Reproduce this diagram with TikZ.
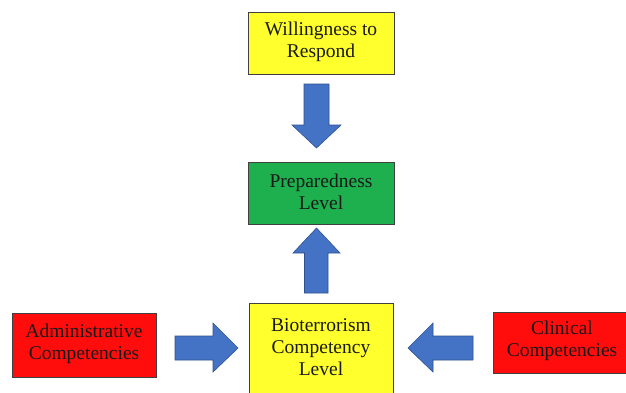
\documentclass[tikz,border=0pt]{standalone}
\usepackage{fontspec}
\setmainfont{Liberation Serif}
\definecolor{byellow}{HTML}{FFFF2E}
\definecolor{bgreen}{HTML}{1EAF4E}
\definecolor{bred}{HTML}{FF0D0D}
\definecolor{bblue}{HTML}{4472C4}
\definecolor{bblueedge}{HTML}{2F528F}
\definecolor{bedge}{HTML}{404040}
\begin{document}
\begin{tikzpicture}[x=1pt,y=-1pt,
  box/.style={draw=bedge, line width=0.8pt},
  lbl/.style={align=center, inner sep=0pt, text=black!90,
    font=\fontsize{19.5}{22}\selectfont},
  blockarrow/.style={fill=bblue, draw=bblueedge, line width=0.6pt, line join=miter}]
\useasboundingbox[fill=white] (0,0) rectangle (626,392);
% boxes
\path[box, fill=byellow] (248,12) rectangle (394,74);
\node[lbl] (will) at (321,42) {Willingness to\\Respond};
\path[box, fill=bgreen] (248,162) rectangle (394,224);
\node[lbl] (prep) at (321,192) {Preparedness\\Level};
\path[box, fill=byellow] (249,303) rectangle (393,394);
\node[lbl] (bio) at (321,347) {Bioterrorism\\Competency\\Level};
\path[box, fill=bred] (12,313) rectangle (156,377);
\node[lbl] (adm) at (84,344) {Administrative\\Competencies};
\path[box, fill=bred] (493,312) rectangle (627,373);
\node[lbl] (cli) at (562,341) {Clinical\\Competencies};
% block arrows
\coordinate (d) at (316.5,84);
\path[blockarrow] (d) ++(-12.5,0) -- ++(25,0) -- ++(0,41) -- ++(12,0) -- (316.5,148) -- (292,125) -- (304,125) -- cycle;
\coordinate (u) at (316.5,293);
\path[blockarrow] (u) ++(-12,0) -- ++(0,-40) -- ++(-11.5,0) -- (316.5,228) -- (340,253) -- (328,253) -- (328,293) -- cycle;
\coordinate (r) at (175,336);
\path[blockarrow] (r) -- (213,336) -- (213,323) -- (238,348) -- (213,372) -- (213,360) -- (175,360) -- cycle;
\coordinate (l) at (473,336);
\path[blockarrow] (l) -- (433,336) -- (433,323) -- (408,348) -- (433,372) -- (433,360) -- (473,360) -- cycle;
\end{tikzpicture}
\end{document}
